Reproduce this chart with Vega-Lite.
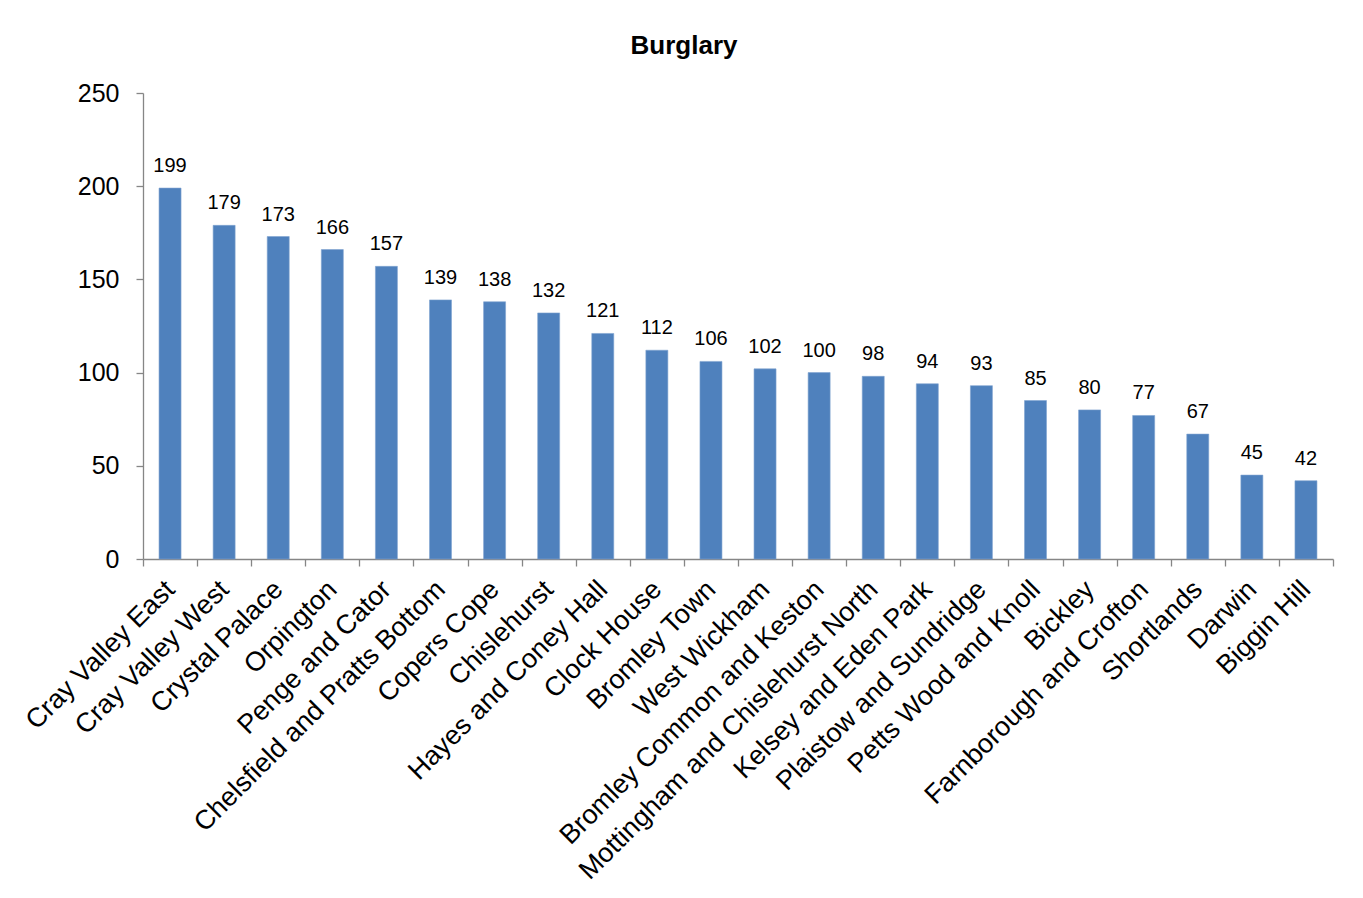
{
  "$schema": "https://vega.github.io/schema/vega-lite/v6.json",
  "autosize": {"type": "none"},
  "width": 1190,
  "height": 466,
  "padding": {"left": 143, "top": 93, "right": 30, "bottom": 339},
  "background": "white",
  "title": {
    "text": "Burglary",
    "font": "Liberation Sans",
    "fontSize": 26,
    "fontWeight": "bold",
    "color": "#000000",
    "anchor": "middle",
    "frame": "group",
    "baseline": "alphabetic",
    "offset": 1,
    "dx": -54
  },
  "config": {
    "view": {"stroke": null},
    "font": "Liberation Sans"
  },
  "data": {
    "values": [
      {"ward": "Cray Valley East", "count": 199},
      {"ward": "Cray Valley West", "count": 179},
      {"ward": "Crystal Palace", "count": 173},
      {"ward": "Orpington", "count": 166},
      {"ward": "Penge and Cator", "count": 157},
      {"ward": "Chelsfield and Pratts Bottom", "count": 139},
      {"ward": "Copers Cope", "count": 138},
      {"ward": "Chislehurst", "count": 132},
      {"ward": "Hayes and Coney Hall", "count": 121},
      {"ward": "Clock House", "count": 112},
      {"ward": "Bromley Town", "count": 106},
      {"ward": "West Wickham", "count": 102},
      {"ward": "Bromley Common and Keston", "count": 100},
      {"ward": "Mottingham and Chislehurst North", "count": 98},
      {"ward": "Kelsey and Eden Park", "count": 94},
      {"ward": "Plaistow and Sundridge", "count": 93},
      {"ward": "Petts Wood and Knoll", "count": 85},
      {"ward": "Bickley", "count": 80},
      {"ward": "Farnborough and Crofton", "count": 77},
      {"ward": "Shortlands", "count": 67},
      {"ward": "Darwin", "count": 45},
      {"ward": "Biggin Hill", "count": 42}
    ]
  },
  "encoding": {
    "x": {
      "field": "ward",
      "type": "nominal",
      "sort": null,
      "scale": {"paddingInner": 0, "paddingOuter": 0},
      "axis": {
        "title": null,
        "tickBand": "extent",
        "labelAngle": -45,
        "labelAlign": "right",
        "labelBaseline": "middle",
        "labelFontSize": 27,
        "labelColor": "#000000",
        "labelPadding": 19,
        "labelOverlap": false,
        "labelLimit": 0,
        "domainColor": "#868686",
        "domainWidth": 1.3,
        "tickColor": "#868686",
        "tickWidth": 1.3,
        "tickSize": 7
      }
    },
    "y": {
      "field": "count",
      "type": "quantitative",
      "scale": {"domain": [0, 250], "nice": false},
      "axis": {
        "title": null,
        "values": [0, 50, 100, 150, 200, 250],
        "grid": false,
        "labelFontSize": 25,
        "labelColor": "#000000",
        "labelPadding": 17,
        "domainColor": "#868686",
        "domainWidth": 1.3,
        "tickColor": "#868686",
        "tickWidth": 1.3,
        "tickSize": 7
      }
    }
  },
  "layer": [
    {
      "mark": {"type": "bar", "width": 22, "color": "#4F81BD", "stroke": "#7FA3D0", "strokeWidth": 0.6}
    },
    {
      "mark": {"type": "text", "fontSize": 20, "color": "#000000", "baseline": "alphabetic", "dy": -16},
      "encoding": {"text": {"field": "count", "type": "quantitative"}}
    }
  ]
}
